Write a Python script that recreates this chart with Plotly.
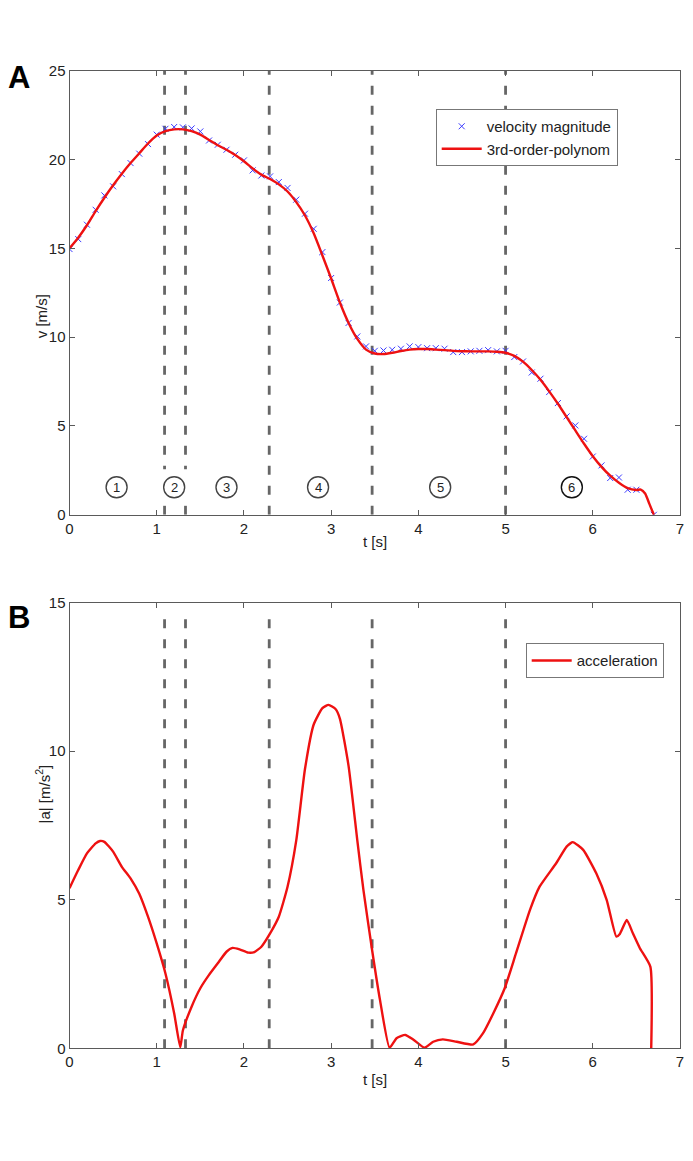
import plotly.graph_objects as go

# ---------------- data ----------------
# measured velocity magnitude samples (t [s], v [m/s])
vel_t = [0.0, 0.1, 0.2, 0.3, 0.4, 0.5, 0.6, 0.7, 0.8, 0.9,
         1.0, 1.1, 1.2, 1.3, 1.4, 1.5, 1.6, 1.7, 1.8, 1.9,
         2.0, 2.1, 2.2, 2.3, 2.4, 2.5, 2.6, 2.7, 2.8, 2.9,
         3.0, 3.1, 3.2, 3.3, 3.4, 3.5, 3.6, 3.7, 3.8, 3.9,
         4.0, 4.1, 4.2, 4.3, 4.4, 4.5, 4.6, 4.7, 4.8, 4.9,
         5.0, 5.1, 5.2, 5.3, 5.4, 5.5, 5.6, 5.7, 5.8, 5.9,
         6.0, 6.1, 6.2, 6.3, 6.4, 6.5, 6.7]
vel_v = [14.96, 15.52, 16.33, 17.17, 17.98, 18.49, 19.18, 19.80, 20.33, 20.87,
         21.40, 21.73, 21.83, 21.81, 21.75, 21.58, 21.07, 20.83, 20.55, 20.27,
         19.95, 19.39, 19.10, 19.05, 18.73, 18.40, 17.74, 16.95, 16.10, 14.79,
         13.33, 11.95, 10.80, 10.04, 9.48, 9.23, 9.25, 9.29, 9.35, 9.48,
         9.44, 9.38, 9.38, 9.35, 9.16, 9.16, 9.20, 9.23, 9.27, 9.20,
         9.23, 8.88, 8.63, 8.01, 7.66, 6.91, 6.29, 5.54, 5.03, 4.28,
         3.28, 2.78, 2.07, 2.10, 1.41, 1.41, 0.0]

# 3rd-order polynomial fit of velocity
fit_t = [0.0, 0.1, 0.2, 0.3, 0.4, 0.5, 0.6, 0.7, 0.8, 0.9,
         1.0, 1.1, 1.2, 1.3, 1.4, 1.5, 1.6, 1.7, 1.8, 1.9,
         2.0, 2.1, 2.2, 2.3, 2.4, 2.5, 2.6, 2.7, 2.8, 2.9,
         3.0, 3.1, 3.2, 3.3, 3.4, 3.5, 3.6, 3.7, 3.8, 3.9,
         4.0, 4.1, 4.2, 4.3, 4.4, 4.5, 4.6, 4.7, 4.8, 4.9,
         5.0, 5.1, 5.2, 5.3, 5.4, 5.5, 5.6, 5.7, 5.8, 5.9,
         6.0, 6.1, 6.2, 6.3, 6.4, 6.5, 6.55, 6.6, 6.65, 6.7]
fit_v = [15.0, 15.6, 16.3, 17.1, 17.85, 18.55, 19.2, 19.8, 20.35, 20.9,
         21.35, 21.6, 21.7, 21.7, 21.6, 21.4, 21.1, 20.8, 20.55, 20.25,
         19.9, 19.5, 19.15, 18.9, 18.6, 18.2, 17.6, 16.85, 15.85, 14.6,
         13.3, 11.95, 10.8, 9.9, 9.3, 9.08, 9.05, 9.12, 9.22, 9.3,
         9.33, 9.33, 9.3, 9.27, 9.23, 9.21, 9.2, 9.2, 9.2, 9.18,
         9.12, 8.95, 8.62, 8.15, 7.6, 6.95, 6.25, 5.5, 4.75, 4.0,
         3.3, 2.7, 2.2, 1.8, 1.5, 1.4, 1.42, 1.2, 0.6, 0.0]

# acceleration magnitude |a| (t [s], a [m/s^2])
acc_t = [0.0, 0.1, 0.2, 0.3, 0.35, 0.4, 0.5, 0.6, 0.7, 0.8, 0.9,
         1.0, 1.1, 1.2, 1.27, 1.3, 1.4, 1.5, 1.6, 1.7, 1.8, 1.87, 1.95,
         2.05, 2.12, 2.2, 2.3, 2.4, 2.5, 2.6, 2.7, 2.8, 2.9, 2.97,
         3.05, 3.1, 3.2, 3.3, 3.37, 3.47, 3.56, 3.67, 3.75, 3.85, 3.94,
         4.07, 4.17, 4.28, 4.44, 4.63, 4.74, 4.86, 4.99, 5.12, 5.28, 5.39,
         5.58, 5.7, 5.77, 5.89, 6.04, 6.16, 6.27, 6.31, 6.39, 6.46, 6.54,
         6.66, 6.67]
acc_a = [5.39, 6.0, 6.56, 6.9, 6.98, 6.95, 6.62, 6.11, 5.72, 5.2, 4.43,
         3.53, 2.52, 1.18, 0.03, 0.6, 1.4, 2.02, 2.47, 2.86, 3.25, 3.38, 3.33,
         3.22, 3.24, 3.42, 3.87, 4.43, 5.44, 7.0, 9.4, 10.9, 11.45, 11.56,
         11.42, 11.1, 9.5, 7.0, 5.33, 3.3, 1.63, 0.02, 0.34, 0.45, 0.3,
         0.02, 0.22, 0.3, 0.22, 0.13, 0.5, 1.18, 2.02, 3.2, 4.66, 5.44,
         6.23, 6.79, 6.94, 6.68, 5.89, 4.99, 3.76, 3.85, 4.32, 3.87, 3.37,
         2.75, 0.0]

# phase boundaries [s]
phase_bounds = [1.09, 1.33, 2.29, 3.47, 5.0]

# phase labels
phase_labels = ["1", "2", "3", "4", "5", "6"]
phase_label_t = [0.54, 1.20, 1.80, 2.85, 4.25, 5.76]
phase_label_v = [1.55, 1.55, 1.55, 1.55, 1.55, 1.55]
phase_label_colors = ["#444444", "#444444", "#444444", "#444444", "#444444", "#111111"]

x_ticks = [0, 1, 2, 3, 4, 5, 6, 7]
v_ticks = [0, 5, 10, 15, 20, 25]
a_ticks = [0, 5, 10, 15]

# ---------------- figure ----------------
W, H = 693, 1161
FONT = "Arial, Liberation Sans, sans-serif"
AXC = "#5a5a5a"
DASHC = "#666666"
TXT = "#222222"

x0p, x1p = 69.5 / W, 680.0 / W
topA, botA = 1 - 70.7 / H, 1 - 514.8 / H
topB, botB = 1 - 602.7 / H, 1 - 1048.3 / H

fig = go.Figure()

# dashed phase boundaries
for tb in phase_bounds:
    fig.add_trace(go.Scatter(x=[tb, tb], y=[0, 25], mode="lines",
                             line=dict(color=DASHC, width=2.8, dash="9px,11px"),
                             xaxis="x", yaxis="y", showlegend=False, hoverinfo="skip"))
    fig.add_trace(go.Scatter(x=[tb, tb], y=[0, 14.6], mode="lines",
                             line=dict(color=DASHC, width=2.8, dash="9px,11px"),
                             xaxis="x2", yaxis="y2", showlegend=False, hoverinfo="skip"))

# velocity samples
fig.add_trace(go.Scatter(x=vel_t, y=vel_v, mode="markers", name="velocity magnitude",
                         marker=dict(symbol="x-thin", size=6, color="#3b3bff",
                                     line=dict(width=1, color="#3b3bff")),
                         xaxis="x", yaxis="y", legend="legend"))
# polynomial fit
fig.add_trace(go.Scatter(x=fit_t, y=fit_v, mode="lines", name="3rd-order-polynom",
                         line=dict(color="#ee1111", width=2.4, shape="spline", smoothing=0.6),
                         xaxis="x", yaxis="y", legend="legend"))
# acceleration
fig.add_trace(go.Scatter(x=acc_t, y=acc_a, mode="lines", name="acceleration",
                         line=dict(color="#ee1111", width=2.4, shape="spline", smoothing=0.5),
                         xaxis="x2", yaxis="y2", legend="legend2"))

# phase label boxes (white background) and circles
shapes = []
for t, v in zip(phase_label_t, phase_label_v):
    shapes.append(dict(type="rect", xref="x", yref="y", layer="above",
                       xsizemode="pixel", ysizemode="pixel", xanchor=t, yanchor=v,
                       x0=-17, x1=17, y0=-18, y1=18,
                       fillcolor="white", line=dict(width=0)))
for t, v, c in zip(phase_label_t, phase_label_v, phase_label_colors):
    shapes.append(dict(type="circle", xref="x", yref="y", layer="above",
                       xsizemode="pixel", ysizemode="pixel", xanchor=t, yanchor=v,
                       x0=-10.5, x1=10.5, y0=-10.5, y1=10.5,
                       fillcolor="white", line=dict(color=c, width=1.4)))

annotations = []
for lab, t, v in zip(phase_labels, phase_label_t, phase_label_v):
    annotations.append(dict(text=lab, x=t, y=v, xref="x", yref="y", showarrow=False,
                            font=dict(family=FONT, size=13, color=TXT)))
annotations += [
    dict(text="<b>A</b>", x=6 / W, y=1 - 58 / H, xref="paper", yref="paper",
         xanchor="left", yanchor="top", showarrow=False,
         font=dict(family=FONT, size=31, color="black")),
    dict(text="<b>B</b>", x=6 / W, y=1 - 598 / H, xref="paper", yref="paper",
         xanchor="left", yanchor="top", showarrow=False,
         font=dict(family=FONT, size=31, color="black")),
    dict(text="v [m/s]", x=31 / W, y=(topA + botA) / 2, xref="paper", yref="paper",
         textangle=-90, showarrow=False, font=dict(family=FONT, size=15, color=TXT)),
    dict(text="|a| [m/s<sup>2</sup>]", x=31 / W, y=(topB + botB) / 2, xref="paper", yref="paper",
         textangle=-90, showarrow=False, font=dict(family=FONT, size=15, color=TXT)),
    dict(text="t [s]", x=(x0p + x1p) / 2, y=1 - 541 / H, xref="paper", yref="paper",
         showarrow=False, font=dict(family=FONT, size=15, color=TXT)),
    dict(text="t [s]", x=(x0p + x1p) / 2, y=1 - 1090 / H, xref="paper", yref="paper",
         showarrow=False, font=dict(family=FONT, size=15, color=TXT)),
]

axis_common = dict(showgrid=False, zeroline=False, showline=True, linecolor=AXC, linewidth=1,
                   mirror="allticks", ticks="inside", ticklen=5, tickcolor=AXC,
                   automargin=False,
                   tickfont=dict(family=FONT, size=15, color=TXT))

fig.update_layout(
    template="none",
    width=W, height=H, autosize=False,
    margin=dict(l=0, r=0, t=0, b=0, pad=0, autoexpand=False),
    paper_bgcolor="white", plot_bgcolor="white",
    font=dict(family=FONT, size=15, color=TXT),
    xaxis=dict(domain=[x0p, x1p], range=[0, 7], tickvals=x_ticks, anchor="y", **axis_common),
    yaxis=dict(domain=[botA, topA], range=[0, 25], tickvals=v_ticks, anchor="x", **axis_common),
    xaxis2=dict(domain=[x0p, x1p], range=[0, 7], tickvals=x_ticks, anchor="y2", **axis_common),
    yaxis2=dict(domain=[botB, topB], range=[0, 15], tickvals=a_ticks, anchor="x2", **axis_common),
    legend=dict(x=435.7 / W, y=1 - 109 / H, xanchor="left", yanchor="top",
                bgcolor="white", bordercolor="#777777", borderwidth=1,
                font=dict(family=FONT, size=15, color=TXT),
                itemwidth=40, tracegroupgap=0),
    legend2=dict(x=525.7 / W, y=1 - 643.3 / H, xanchor="left", yanchor="top",
                 bgcolor="white", bordercolor="#777777", borderwidth=1,
                 font=dict(family=FONT, size=15, color=TXT),
                 itemwidth=40),
    shapes=shapes,
    annotations=annotations,
)

fig.write_html("out.html",
               config={"displayModeBar": False},
               post_script="document.body.style.margin='0';document.body.style.padding='0';"
                           "document.body.style.overflow='hidden';")
